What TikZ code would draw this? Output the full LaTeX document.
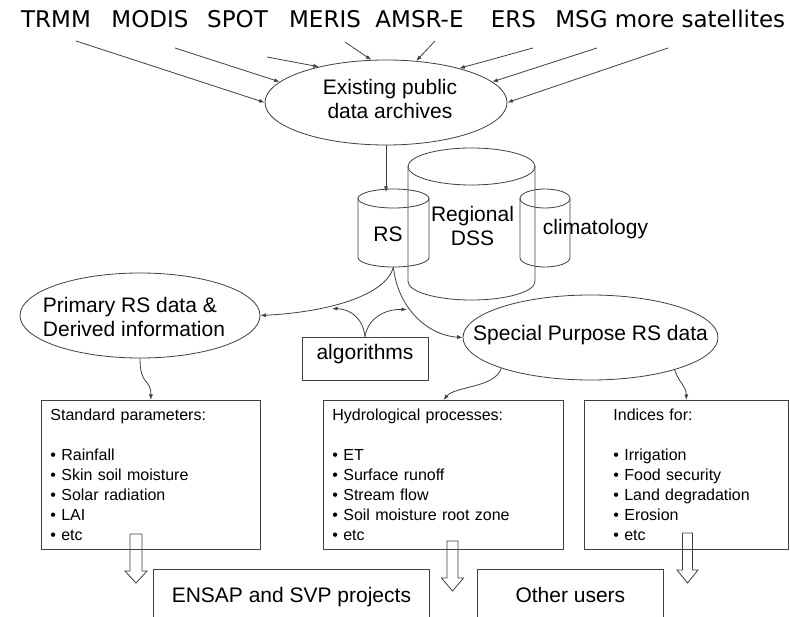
\documentclass[tikz,border=0pt]{standalone}
\usepackage{fontspec}
\setmainfont{Liberation Sans}
\newfontfamily\dvfont{DejaVu Sans}
\usetikzlibrary{arrows.meta,shapes.geometric}
\definecolor{lc}{gray}{0.25}
\begin{document}
\begin{tikzpicture}[x=1pt,y=-1pt,
  ln/.style={draw=lc, line width=0.8pt},
  arr/.style={ln, -{Latex[length=5.5pt,width=4pt]}},
  sat/.style={font=\dvfont\fontsize{23}{28}\selectfont, anchor=base, inner sep=0pt},
  big/.style={font=\fontsize{21}{24}\selectfont, inner sep=0pt},
  oval/.style={ln, ellipse, inner sep=0pt},
  listbox/.style={ln, rectangle, inner ysep=0pt, inner xsep=9pt, minimum height=149pt,
    align=left, anchor=north west, font=\fontsize{16}{20}\selectfont},
  endbox/.style={ln, rectangle, big, minimum height=56pt, text height=15pt, text depth=5pt, anchor=north west},
  hollow/.style={ln, line join=miter}
]
\useasboundingbox (0,0) rectangle (790,617);
\clip (0,0) rectangle (790,617);
\fill[white] (0,0) rectangle (790,617);

% satellite labels
\node[sat] (trmm) at (56,28) {TRMM};
\node[sat] (modis) at (150,28) {MODIS};
\node[sat] (spot) at (237.5,28) {SPOT};
\node[sat] (meris) at (325,28) {MERIS};
\node[sat] (amsr) at (419.5,28) {AMSR-E};
\node[sat] (ers) at (513.5,28) {ERS};
\node[sat] (msg) at (581.5,28) {MSG};
\node[sat] (more) at (700,28) {more satellites};

\coordinate (s1) at (76,41);
\coordinate (s2) at (175,48);
\coordinate (s3) at (267,57);
\coordinate (s4) at (345,42);
\coordinate (s5) at (435,41);
\coordinate (s6) at (533,48);
\coordinate (s7) at (597,48);
\coordinate (s8) at (668,48);

% archive ellipse
\node[oval, minimum width=242pt, minimum height=85pt] (arch) at (386,102.5) {};
\node[big, align=center] (archtxt) at (390,99) {Existing public\\data archives};

\draw[arr] (s1) -- (arch.west);
\draw[arr] (s2) -- (arch.169);
\draw[arr] (s3) -- (arch.152);
\draw[arr] (s4) -- (arch.109);
\draw[arr] (s5) -- (arch.54);
\draw[arr] (s6) -- (arch.25);
\draw[arr] (s7) -- (arch.11.5);
\draw[arr] (s8) -- (arch.east);

% cylinders
% Regional DSS
\draw[ln] (471.5,166.5) ellipse [x radius=63.5pt, y radius=18.5pt];
\draw[ln] (408,166.5) -- (408,281.5) arc[start angle=180, end angle=360, x radius=63.5pt, y radius=18.5pt] -- (535,166.5);
% RS
\draw[ln] (393.5,198.5) ellipse [x radius=35.5pt, y radius=9.5pt];
\draw[ln] (358,198.5) -- (358,257.5) arc[start angle=180, end angle=360, x radius=35.5pt, y radius=9.5pt] -- (429,198.5);
% climatology
\draw[ln] (545,198.5) ellipse [x radius=25pt, y radius=9.5pt];
\draw[ln] (520,198.5) -- (520,257.5) arc[start angle=180, end angle=360, x radius=25pt, y radius=9.5pt] -- (570,198.5);

\node[big] (rs) at (388,234.5) {RS};
\node[big, align=center] (dss) at (472.5,225.5) {Regional\\DSS};
\node[big] (clim) at (595.5,229.5) {climatology};

\coordinate (rsin) at (386,192);
\coordinate (rsbot) at (393.5,267);
\draw[arr] (arch.south -| rsin) -- (rsin);

% primary and special ellipses
\node[oval, minimum width=240pt, minimum height=85pt] (prim) at (140,315.5) {};
\node[big, align=left] (primtxt) at (134,317) {Primary RS data \&\\Derived information};
\node[oval, minimum width=255pt, minimum height=85pt] (spec) at (590.5,337.5) {};
\node[big] (spectxt) at (590.5,335) {Special Purpose RS data};

% algorithms
\node[ln, rectangle, big, minimum width=126pt, minimum height=43pt, text height=15pt, text depth=12pt] (alg) at (365,358.5) {algorithms};

\draw[arr] (rsbot) .. controls (386,295) and (330,312) .. (prim.east);
\draw[arr] (rsbot) .. controls (397,305) and (425,335) .. (spec.west);

\coordinate (a1) at (332,308.5);
\coordinate (a2) at (407,309.5);
\draw[arr] (alg.north) .. controls (363,318) and (350,309) .. (a1);
\draw[arr] (alg.north) .. controls (368,318) and (385,309) .. (a2);

% list boxes
\node[listbox, minimum width=219pt, text width=201pt] (std) at (41,400)
 {Standard parameters:\\[20pt]
  \textbullet\ Rainfall\\
  \textbullet\ Skin soil moisture\\
  \textbullet\ Solar radiation\\
  \textbullet\ LAI\\
  \textbullet\ etc};
\node[listbox, minimum width=240pt, text width=222pt] (hydro) at (323,400)
 {Hydrological processes:\\[20pt]
  \textbullet\ ET\\
  \textbullet\ Surface runoff\\
  \textbullet\ Stream flow\\
  \textbullet\ Soil moisture root zone\\
  \textbullet\ etc};
\node[listbox, inner xsep=29pt, minimum width=204pt, text width=146pt] (ind) at (584,400)
 {Indices for:\\[20pt]
  \textbullet\ Irrigation\\
  \textbullet\ Food security\\
  \textbullet\ Land degradation\\
  \textbullet\ Erosion\\
  \textbullet\ etc};

\draw[arr] (prim.south) .. controls +(0,28) and +(0,-22) .. (std.north);
\draw[arr] (spec.199) .. controls (495,388) and (455,386) .. (hydro.north);
\draw[arr] (spec.339) .. controls (680,385) and (686,385) .. (ind.north);

% end boxes
\node[endbox, minimum width=276pt] (ensap) at (153,569) {ENSAP and SVP projects};
\node[endbox, minimum width=186pt] (other) at (477,569) {Other users};

% hollow arrows
\draw[hollow] (130,534) -- (142,534) -- (142,571) -- (147,571) -- (136,583) -- (125,571) -- (130,571) -- cycle;
\draw[hollow] (447,541) -- (458,541) -- (458,578) -- (463.5,578) -- (452.5,591) -- (441.5,578) -- (447,578) -- cycle;
\draw[hollow] (682.5,533) -- (692.5,533) -- (692.5,570) -- (698,570) -- (687.5,583) -- (677,570) -- (682.5,570) -- cycle;
\end{tikzpicture}
\end{document}
